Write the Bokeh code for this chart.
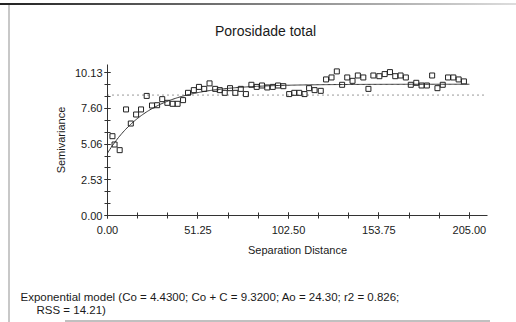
import numpy as np
from bokeh.plotting import figure
from bokeh.layouts import column
from bokeh.models import FixedTicker, Label, Span, Range1d
from bokeh.embed import file_html
from bokeh.resources import INLINE

title_text = "Porosidade total"
x_label = "Separation Distance"
y_label = "Semivariance"
footer_line1 = "Exponential model (Co = 4.4300; Co + C = 9.3200; Ao = 24.30; r2 = 0.826;"
footer_line2 = "RSS = 14.21)"

lag = [2.8, 4.0, 6.9, 10.5, 13.2, 16.2, 19.0, 22.2, 25.2, 28.1, 31.0, 33.9, 36.9, 39.7,
       42.8, 45.6, 48.9, 51.8, 54.8, 57.8, 61.0, 63.6, 66.4, 69.4, 72.4, 75.5, 78.4,
       81.5, 84.5, 87.5, 90.5, 93.6, 96.6, 99.6, 102.9, 105.8, 108.6, 111.6, 114.2,
       117.3, 120.8, 123.8, 126.9, 129.9, 132.9, 135.8, 138.8, 141.8, 144.9, 147.8,
       150.6, 154.0, 157.0, 160.0, 163.0, 166.0, 169.0, 171.8, 174.9, 177.9, 180.9,
       183.9, 186.9, 189.9, 192.9, 195.9, 198.9, 201.9]
semivariance = [5.63, 5.04, 4.64, 7.53, 6.53, 7.17, 7.53, 8.49, 7.81, 7.83, 8.26, 8.00,
                7.93, 7.93, 8.19, 8.71, 8.90, 9.13, 8.99, 9.38, 8.99, 8.90, 8.71, 9.04,
                8.71, 8.99, 8.62, 9.28, 9.13, 9.23, 9.09, 9.13, 9.23, 9.18, 8.62, 8.71,
                8.71, 8.62, 9.04, 8.90, 8.85, 9.66, 9.80, 10.23, 9.28, 9.80, 9.56, 9.94,
                9.80, 8.99, 9.94, 9.89, 10.04, 10.18, 9.89, 9.94, 9.80, 9.28, 9.42, 9.23,
                9.23, 9.94, 9.04, 9.28, 9.80, 9.80, 9.66, 9.52]

nugget = 4.43
sill = 9.32
range_a = 24.30
sample_variance = 8.55

x_ticks = [0.0, 51.25, 102.5, 153.75, 205.0]
x_tick_labels = ["0.00", "51.25", "102.50", "153.75", "205.00"]
y_ticks = [0.0, 2.5325, 5.065, 7.5975, 10.13]
y_tick_labels = ["0.00", "2.53", "5.06", "7.60", "10.13"]

FONT = "Liberation Sans"
TXT = "#1a1a1a"
W = 516
H_HEAD, H_MAIN, H_FOOT = 50, 230, 42


def blank(height):
    f = figure(width=W, height=height, output_backend="svg", toolbar_location=None,
               x_range=Range1d(0, 1), y_range=Range1d(0, 1),
               x_axis_location=None, y_axis_location=None, min_border=0,
               frame_align=False)
    f.grid.visible = False
    f.outline_line_color = None
    f.background_fill_color = None
    f.border_fill_color = None
    return f


# ---- header (title) ----
head = blank(H_HEAD)
head.add_layout(Label(x=265, y=H_HEAD - 30, x_units="screen", y_units="screen",
                      text=title_text, text_align="center", text_baseline="middle",
                      text_font=FONT, text_font_size="14px", text_color=TXT))

# ---- main plot ----
p = figure(width=W, height=H_MAIN, output_backend="svg", toolbar_location=None,
           x_range=Range1d(0, 215.25), y_range=Range1d(0, 10.72),
           min_border_left=107, min_border_right=29, min_border_top=14,
           min_border_bottom=65, frame_align=False)
p.background_fill_color = "white"
p.border_fill_color = None
p.outline_line_color = None
p.grid.visible = False

h = np.linspace(0, 205, 300)
gamma = nugget + (sill - nugget) * (1 - np.exp(-h / range_a))
p.line(h, gamma, line_color="#333333", line_width=1)

p.add_layout(Span(location=sample_variance, dimension="width", line_color="#333333",
                  line_width=1, line_dash="1 4"))

p.scatter(lag, semivariance, marker="square", size=5, fill_color=None,
          line_color="#222222", line_width=1)

xa = p.xaxis[0]
xa.ticker = FixedTicker(ticks=x_ticks,
                        minor_ticks=[i * 205 / 12 for i in range(13)])
xa.major_label_overrides = dict(zip(x_ticks, x_tick_labels))
ya = p.yaxis[0]
ya.ticker = FixedTicker(ticks=y_ticks,
                        minor_ticks=[i * 10.13 / 12 for i in range(13)])
ya.major_label_overrides = dict(zip(y_ticks, y_tick_labels))

for ax in (xa, ya):
    ax.axis_line_color = "#333333"
    ax.major_tick_line_color = "#333333"
    ax.minor_tick_line_color = "#333333"
    ax.major_tick_in = 3
    ax.major_tick_out = 3
    ax.minor_tick_in = 3
    ax.minor_tick_out = 3
    ax.major_label_text_font = FONT
    ax.major_label_text_font_size = "11px"
    ax.major_label_text_color = TXT
    ax.axis_label_text_font = FONT
    ax.axis_label_text_font_size = "11px"
    ax.axis_label_text_font_style = "normal"
    ax.axis_label_text_color = TXT

xa.axis_label = x_label
xa.major_label_standoff = 7
xa.axis_label_standoff = 7
ya.axis_label = y_label
ya.major_label_standoff = 2
ya.axis_label_standoff = 5

# ---- footer (model description) ----
foot = blank(H_FOOT)
foot.add_layout(Label(x=20, y=H_FOOT - 16, x_units="screen", y_units="screen",
                      text=footer_line1, text_align="left", text_baseline="middle",
                      text_font=FONT, text_font_size="11.5px", text_color=TXT))
foot.add_layout(Label(x=36, y=H_FOOT - 29.5, x_units="screen", y_units="screen",
                      text=footer_line2, text_align="left", text_baseline="middle",
                      text_font=FONT, text_font_size="11.5px", text_color=TXT))

layout = column(head, p, foot, spacing=0)
# window chrome as CSS background behind the transparent figure borders
layout.styles = {
    "background-color": "white",
    "background-image": ("linear-gradient(to right, #222222, #dddddd), "
                         "linear-gradient(#c8c8c8, #c8c8c8), "
                         "linear-gradient(#c0c0c0, #c0c0c0)"),
    "background-size": "516px 2px, 2px 317px, 425px 2px",
    "background-position": "0px 3px, 8px 5px, 65px 320px",
    "background-repeat": "no-repeat",
}

open("out.html", "w").write(file_html(layout, INLINE))
